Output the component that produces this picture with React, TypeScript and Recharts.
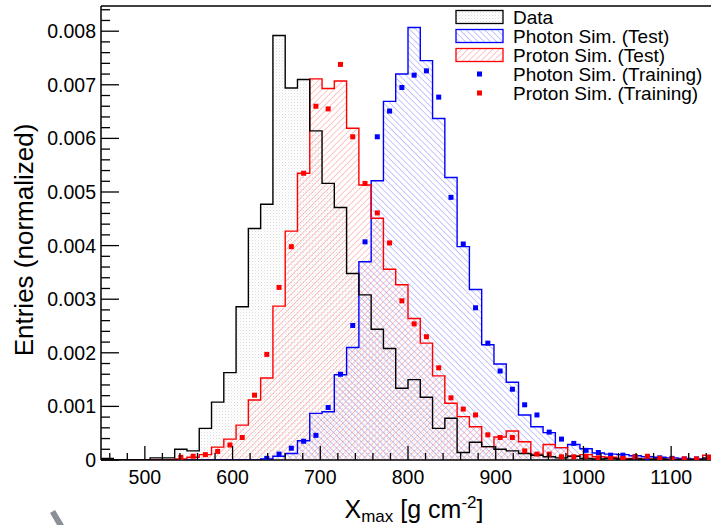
import React from 'react';
import { ComposedChart, Area, Line, Scatter, XAxis, YAxis, ReferenceLine } from 'recharts';

// histogram binning: 50 bins of 14 g/cm2 from 450 to 1150
const X_MIN = 450;
const X_MAX = 1150;
const BIN_WIDTH = 14;
const Y_MAX = 8.47; // in units of 1e-3

// entries (normalized) per bin, in units of 1e-3
const dataHist = [
  0.03, 0, 0, 0, 0.04, 0.04, 0.2, 0.17, 0.59, 1.08,
  1.63, 2.86, 4.32, 4.77, 7.92, 6.94, 7.1, 6.14, 5.16, 4.71,
  3.48, 3.08, 2.44, 2.08, 1.34, 1.5, 1.17, 0.59, 0.78, 0.14,
  0.33, 0.25, 0.2, 0.17, 0.12, 0.09, 0.06, 0.04, 0.07, 0.03,
  0.02, 0.03, 0.01, 0.02, 0.01, 0.02, 0.01, 0, 0.01, 0.04,
];
const photonTest = [
  0, 0, 0, 0, 0, 0, 0, 0, 0, 0,
  0, 0, 0, 0.02, 0.07, 0.12, 0.36, 0.87, 0.9, 1.59,
  2.1, 3.7, 5.21, 6.69, 7.2, 8.07, 7.45, 6.37, 5.27, 3.98,
  3.18, 2.15, 1.79, 1.45, 0.84, 0.62, 0.51, 0.23, 0.29, 0.21,
  0.13, 0.11, 0.1, 0.08, 0.06, 0.05, 0.04, 0.03, 0.02, 0.02,
];
const protonTest = [
  0, 0, 0, 0, 0, 0, 0.02, 0.05, 0.1, 0.24,
  0.39, 0.65, 1.12, 1.53, 2.87, 4.27, 5.35, 7.11, 6.93, 7.07,
  6.19, 5.13, 4.51, 3.56, 3.27, 2.64, 2.18, 1.57, 1.06, 0.81,
  0.62, 0.25, 0.43, 0.54, 0.34, 0.11, 0.29, 0.23, 0.07, 0.1,
  0.06, 0.05, 0.03, 0.03, 0.02, 0.02, 0.01, 0.01, 0.01, 0.09,
];
const photonTrain = [
  null, null, null, null, null, null, null, null, null, null,
  null, null, null, 0.03, 0.11, 0.22, 0.35, 0.46, 0.98, 1.6,
  2.51, 4.07, 6.03, 6.51, 6.95, 7.18, 7.26, 6.77, 4.9, 4.03,
  2.84, 2.18, 1.66, 1.32, 1.03, 0.84, 0.52, 0.39, 0.31, 0.18,
  0.14, 0.09, 0.09, 0.06, 0.05, 0.04, 0.03, 0.02, 0.02, 0.03,
];
const protonTrain = [
  null, null, null, null, null, null, 0.05, 0.07, 0.1, 0.16,
  0.28, 0.42, 1.21, 1.97, 3.22, 3.98, 5.35, 6.6, 6.55, 7.38,
  6.03, 5.16, 4.61, 4.05, 2.97, 2.54, 2.3, 1.72, 1.16, 0.95,
  0.84, 0.47, 0.42, 0.42, 0.17, 0.11, 0.11, 0.06, 0.06, 0.07,
  0.04, 0.03, 0.03, 0.06, 0.07, 0.03, 0.02, 0.02, 0.02, 0.03,
];

const xTicks: number[] = [];
for (let v = 460; v < X_MAX; v += 20) xTicks.push(v);
const yTicks: number[] = [];
for (let i = 0; i <= 42; i++) yTicks.push(Math.round(i * 2) / 10);

// bin edges for the step outlines (last edge repeats last bin)
const edgeRows = Array.from({ length: dataHist.length + 1 }, (_, k) => {
  const j = Math.min(k, dataHist.length - 1);
  return {
    x: X_MIN + k * BIN_WIDTH,
    data: dataHist[j],
    photon: photonTest[j],
    proton: protonTest[j],
  };
});

const toPoints = (vals: (number | null)[]) =>
  vals
    .map((v, k) => ({ x: X_MIN + (k + 0.5) * BIN_WIDTH, y: v }))
    .filter((p) => p.y !== null);

const photonPts = toPoints(photonTrain);
const protonPts = toPoints(protonTrain);

const FONT = '"Liberation Sans", Arial, Helvetica, sans-serif';

const renderXTick = (props: any) => {
  const { x, y, payload } = props;
  const v = payload.value;
  const major = v % 100 === 0;
  return (
    <g key={'xt' + v}>
      <line x1={x} x2={x} y1={y} y2={y - (major ? 14 : 7)} stroke="#000" strokeWidth={1.3} />
      {major && (
        <text x={x} y={y + 24} textAnchor="middle" fontSize={19.5} fontFamily={FONT} fill="#000">
          {v}
        </text>
      )}
    </g>
  );
};

const renderYTick = (props: any) => {
  const { x, y, payload } = props;
  const v = payload.value;
  const major = Math.abs(v - Math.round(v)) < 1e-6;
  return (
    <g key={'yt' + v}>
      <line x1={x} x2={x + (major ? 18 : 9)} y1={y} y2={y} stroke="#000" strokeWidth={1.3} />
      {major && (
        <text x={x - 5} y={y + 7} textAnchor="end" fontSize={19.5} fontFamily={FONT} fill="#000">
          {v === 0 ? '0' : (v / 1000).toFixed(3)}
        </text>
      )}
    </g>
  );
};

const square = (color: string) => (props: any) =>
  <rect x={props.cx - 2.5} y={props.cy - 2.5} width={5} height={5} fill={color} />;

const Patterns = ({ suffix = '' }: { suffix?: string }) => (
  <defs>
    <pattern id={'dots' + suffix} width="3" height="3" patternUnits="userSpaceOnUse">
      <rect x="0" y="0" width="1" height="1" fill="#dcdcdc" />
      <rect x="1.5" y="1.5" width="1" height="1" fill="#ececec" />
    </pattern>
    <pattern id={'hatchBlue' + suffix} width="4.4" height="4.4" patternUnits="userSpaceOnUse" patternTransform="rotate(-45)">
      <line x1="0" y1="0" x2="0" y2="4.4" stroke="#8c8cff" strokeWidth="1" />
    </pattern>
    <pattern id={'hatchRed' + suffix} width="4.4" height="4.4" patternUnits="userSpaceOnUse" patternTransform="rotate(45)">
      <line x1="0" y1="0" x2="0" y2="4.4" stroke="#ff8c8c" strokeWidth="1" />
    </pattern>
  </defs>
);

const legendRows = [
  { label: 'Data', kind: 'box', fill: 'url(#dotsL)', stroke: '#000' },
  { label: 'Photon Sim. (Test)', kind: 'box', fill: 'url(#hatchBlueL)', stroke: '#0000ff' },
  { label: 'Proton Sim. (Test)', kind: 'box', fill: 'url(#hatchRedL)', stroke: '#ff0000' },
  { label: 'Photon Sim. (Training)', kind: 'marker', fill: '#0000ff', stroke: '' },
  { label: 'Proton Sim. (Training)', kind: 'marker', fill: '#ff0000', stroke: '' },
];

export default function App() {
  return (
    <div style={{ position: 'absolute', left: 0, top: 0, width: 711, height: 525, overflow: 'hidden', background: '#fff' }}>
      <ComposedChart width={720} height={525} data={edgeRows} margin={{ top: 6, right: 5, bottom: 25, left: 41 }}>
        <Patterns />
        <XAxis
          type="number"
          dataKey="x"
          domain={[X_MIN, X_MAX]}
          ticks={xTicks}
          interval={0}
          height={40}
          tickSize={0}
          tickMargin={0}
          tick={renderXTick}
          axisLine={{ stroke: '#000', strokeWidth: 1.5 }}
          allowDataOverflow
        />
        <YAxis
          type="number"
          domain={[0, Y_MAX]}
          ticks={yTicks}
          interval={0}
          width={60}
          tickSize={0}
          tickMargin={0}
          tick={renderYTick}
          axisLine={{ stroke: '#000', strokeWidth: 1.5 }}
          allowDataOverflow
        />
        <ReferenceLine y={Y_MAX} stroke="#000" strokeWidth={1.5} />
        <Area type="stepAfter" dataKey="data" fill="url(#dots)" fillOpacity={1} stroke="none" isAnimationActive={false} activeDot={false} />
        <Area type="stepAfter" dataKey="photon" fill="url(#hatchBlue)" fillOpacity={1} stroke="none" isAnimationActive={false} activeDot={false} />
        <Area type="stepAfter" dataKey="proton" fill="url(#hatchRed)" fillOpacity={1} stroke="none" isAnimationActive={false} activeDot={false} />
        <Line type="stepAfter" dataKey="photon" stroke="#0000ff" strokeWidth={1.4} dot={false} activeDot={false} isAnimationActive={false} />
        <Line type="stepAfter" dataKey="proton" stroke="#ff0000" strokeWidth={1.4} dot={false} activeDot={false} isAnimationActive={false} />
        <Line type="stepAfter" dataKey="data" stroke="#000" strokeWidth={1.4} dot={false} activeDot={false} isAnimationActive={false} />
        <Scatter data={photonPts} dataKey="y" shape={square('#0000ff')} isAnimationActive={false} />
        <Scatter data={protonPts} dataKey="y" shape={square('#ff0000')} isAnimationActive={false} />
      </ComposedChart>
      <svg width={711} height={525} style={{ position: 'absolute', left: 0, top: 0, pointerEvents: 'none' }}>
        <Patterns suffix="L" />
        <text transform="translate(33,240) rotate(-90)" textAnchor="middle" fontSize={26} fontFamily={FONT} fill="#000">
          Entries (normalized)
        </text>
        <text x={414} y={518} textAnchor="middle" fontSize={25} fontFamily={FONT} fill="#000">
          X<tspan fontSize={17} dy={4}>max</tspan>
          <tspan dy={-4}> [g cm</tspan>
          <tspan fontSize={17} dy={-10}>-2</tspan>
          <tspan dy={10}>]</tspan>
        </text>
        <polygon points="50,513 55,510 64,525 57,525" fill="#8a8f98" />
        {legendRows.map((r, i) => {
          const cy = 17 + i * 19;
          return (
            <g key={r.label}>
              {r.kind === 'box' ? (
                <rect x={456} y={cy - 6.5} width={47} height={13} fill={r.fill} stroke={r.stroke} strokeWidth={1.3} />
              ) : (
                <rect x={477} y={cy - 2.5} width={5} height={5} fill={r.fill} />
              )}
              <text x={513} y={cy + 7} fontSize={19} fontFamily={FONT} fill="#000">
                {r.label}
              </text>
            </g>
          );
        })}
      </svg>
    </div>
  );
}
